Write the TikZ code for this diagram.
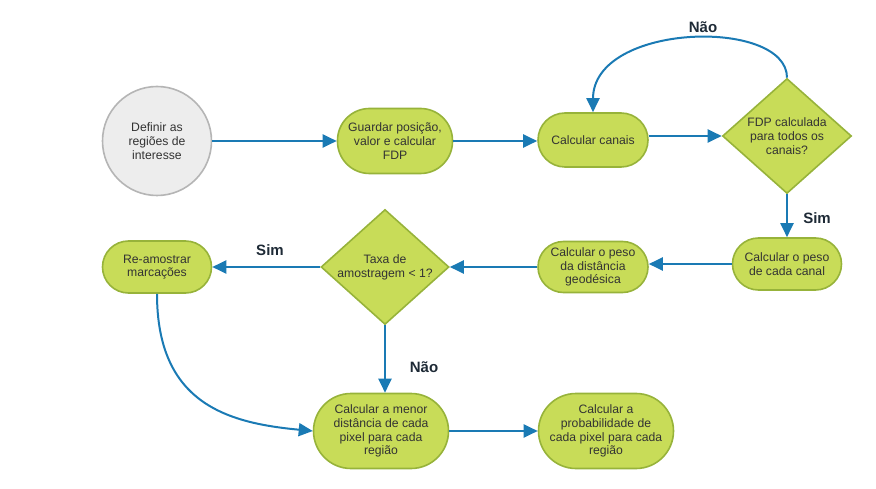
\documentclass[tikz,border=0pt]{standalone}
\usepackage{fontspec}
\setmainfont{Liberation Sans}
\usetikzlibrary{shapes.geometric,arrows.meta}
\definecolor{gfill}{HTML}{C8DC58}
\definecolor{gdraw}{HTML}{97B33A}
\definecolor{cfill}{HTML}{EDEDED}
\definecolor{cdraw}{HTML}{B5B5B5}
\definecolor{arr}{HTML}{1A7AB4}
\definecolor{txt}{HTML}{333333}
\definecolor{lbl}{HTML}{1E2A36}
\tikzset{
  x=1pt,y=-1pt,
  every node/.style={font=\fontsize{12.2}{13.8}\selectfont,text=txt,align=center},
  capsule/.style={draw=gdraw,fill=gfill,line width=1.6pt,inner sep=0pt},
  startc/.style={circle,draw=cdraw,fill=cfill,line width=1.6pt,minimum size=109pt,inner sep=0pt},
  decis/.style={diamond,draw=gdraw,fill=gfill,line width=1.6pt,inner sep=0pt,aspect=1.12},
  flow/.style={draw=arr,line width=2pt,-{Triangle[length=14pt,width=13pt]}},
  lab/.style={font=\bfseries\fontsize{15}{17}\selectfont,text=lbl}
}
\begin{document}
\begin{tikzpicture}
\useasboundingbox (0,0) rectangle (876,489);
\node[startc] (def) at (157,141) {Definir as\\regiões de\\interesse};
\node[capsule,minimum width=115pt,minimum height=65pt,rounded corners=32pt] (guard) at (395,141) {Guardar posição,\\valor e calcular\\FDP};
\node[capsule,minimum width=110pt,minimum height=54pt,rounded corners=27pt] (canais) at (593,140) {Calcular canais};
\node[decis,minimum width=129pt,minimum height=115pt] (fdp) at (787,136) {FDP calculada\\para todos os\\canais?};
\node[capsule,minimum width=109pt,minimum height=52pt,rounded corners=26pt] (pcanal) at (787,264) {Calcular o peso\\de cada canal};
\node[capsule,minimum width=110pt,minimum height=51pt,rounded corners=25.5pt] (geo) at (593,267) {Calcular o peso\\da distância\\geodésica};
\node[decis,minimum width=128pt,minimum height=115pt] (taxa) at (385,267) {Taxa de\\amostragem < 1?};
\node[capsule,minimum width=109pt,minimum height=52pt,rounded corners=26pt] (ream) at (157,267) {Re-amostrar\\marcações};
\node[capsule,minimum width=135pt,minimum height=75pt,rounded corners=37.5pt] (menor) at (381,431) {Calcular a menor\\distância de cada\\pixel para cada\\região};
\node[capsule,minimum width=135pt,minimum height=75pt,rounded corners=37.5pt] (prob) at (606,431) {Calcular a\\probabilidade de\\cada pixel para cada\\região};

\draw[flow] (def) -- (guard);
\draw[flow] (guard) -- (guard -| canais.west);
\draw[flow] (canais.east |- fdp.west) -- (fdp.west);
\draw[flow] (fdp.north) .. controls +(0,-60) and +(0,-90) .. (canais.north);
\draw[flow] (fdp) -- (pcanal);
\draw[flow] (pcanal.west) -- (pcanal.west -| geo.east);
\draw[flow] (geo) -- (taxa);
\draw[flow] (taxa) -- (ream);
\draw[flow] (taxa.south) -- (taxa.south |- menor.north);
\draw[flow] (ream.south) .. controls +(0,110) and +(-85,-8) .. (menor.west);
\draw[flow] (menor) -- (prob);

\node[lab] (l1) at (703,27) {Não};
\node[lab] (l2) at (817,218) {Sim};
\node[lab] (l3) at (270,250) {Sim};
\node[lab] (l4) at (424,367) {Não};
\end{tikzpicture}
\end{document}
